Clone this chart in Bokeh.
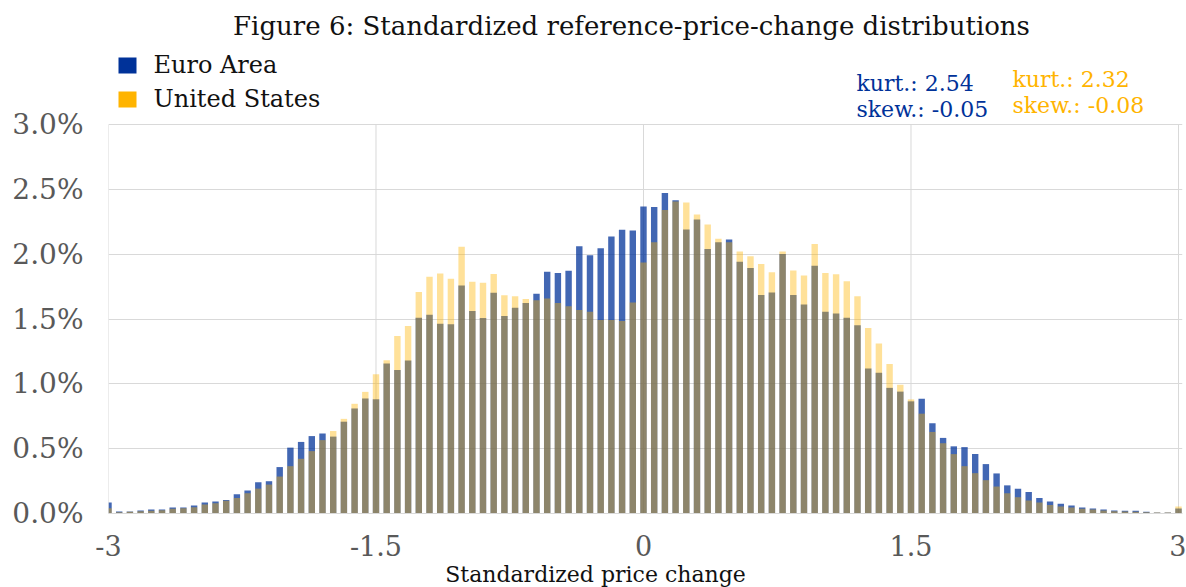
from bokeh.plotting import figure
from bokeh.layouts import column
from bokeh.models import Range1d, FixedTicker, PrintfTickFormatter, ColumnDataSource
from bokeh.core.properties import value
from bokeh.embed import file_html
from bokeh.resources import INLINE

# Bin centres of the standardized price change (step 0.06 from -3 to 3)
bin_centers = [round(-3 + 0.06 * k, 2) for k in range(101)]

# Share of price changes in each bin, in percent
euro_area = [
    0.085, 0.016, 0.015, 0.023, 0.031, 0.031, 0.047, 0.047, 0.062, 0.085,
    0.093, 0.104, 0.148, 0.178, 0.241, 0.249, 0.358, 0.508, 0.552, 0.597,
    0.617, 0.593, 0.708, 0.810, 0.887, 0.881, 1.157, 1.106, 1.180, 1.510,
    1.532, 1.464, 1.460, 1.759, 1.561, 1.508, 1.702, 1.524, 1.586, 1.624,
    1.694, 1.865, 1.854, 1.872, 2.061, 1.991, 2.045, 2.136, 2.188, 2.182,
    2.368, 2.363, 2.472, 2.415, 2.190, 2.268, 2.040, 2.092, 2.113, 1.942,
    1.893, 1.686, 1.705, 2.002, 1.686, 1.612, 1.911, 1.555, 1.543, 1.510,
    1.451, 1.118, 1.085, 0.969, 0.940, 0.865, 0.885, 0.696, 0.583, 0.518,
    0.512, 0.459, 0.381, 0.309, 0.217, 0.191, 0.165, 0.119, 0.092, 0.075,
    0.062, 0.047, 0.039, 0.031, 0.023, 0.021, 0.021, 0.013, 0.008, 0.008,
    0.039,
]
united_states = [
    0.040, 0.010, 0.013, 0.018, 0.021, 0.026, 0.036, 0.041, 0.049, 0.070,
    0.080, 0.098, 0.120, 0.156, 0.192, 0.223, 0.285, 0.365, 0.422, 0.481,
    0.566, 0.636, 0.730, 0.846, 0.938, 1.073, 1.182, 1.369, 1.446, 1.708,
    1.825, 1.851, 1.810, 2.057, 1.787, 1.779, 1.847, 1.684, 1.676, 1.655,
    1.645, 1.658, 1.624, 1.599, 1.570, 1.555, 1.493, 1.493, 1.485, 1.627,
    1.935, 2.092, 2.340, 2.407, 2.399, 2.306, 2.229, 2.118, 2.092, 2.020,
    1.983, 1.924, 1.860, 2.020, 1.875, 1.836, 2.079, 1.855, 1.846, 1.792,
    1.676, 1.431, 1.312, 1.152, 0.993, 0.880, 0.770, 0.629, 0.542, 0.458,
    0.365, 0.311, 0.257, 0.208, 0.156, 0.126, 0.101, 0.085, 0.065, 0.054,
    0.047, 0.036, 0.031, 0.023, 0.018, 0.016, 0.013, 0.010, 0.008, 0.008,
    0.054,
]

title_text = "Figure 6: Standardized reference-price-change distributions"
series_names = ["Euro Area", "United States"]
x_ticks = [-3, -1.5, 0, 1.5, 3]
x_tick_labels = ["-3", "-1.5", "0", "1.5", "3"]
y_ticks = [0, 0.5, 1.0, 1.5, 2.0, 2.5, 3.0]
stats_ea = ["kurt.: 2.54", "skew.: -0.05"]
stats_us = ["kurt.: 2.32", "skew.: -0.08"]
x_axis_title = "Standardized price change"

EA_COLOR = "#003299"
US_COLOR = "#FFB400"
GRID = "#d9d9d9"
TICK_TEXT = "#595959"
TEXT = "#111111"
SERIF = "DejaVu Serif"
W = 1186

# layout in page pixels
LEFT, RIGHT = 108, 4          # frame borders
Y0_PX, Y3_PX = 513, 124       # page y of 0 % and 3 %
BOTTOM = 48                   # room for tick labels
MAIN_H = Y0_PX + BOTTOM
PX_PER_PCT = (Y0_PX - Y3_PX) / 3.0
PX_PER_X = (W - LEFT - RIGHT) / 6.0225

def dx(px):
    return -3 + (px - LEFT) / PX_PER_X

def dy(py):
    return (Y0_PX - py) / PX_PER_PCT

src = ColumnDataSource(dict(x=bin_centers, ea=euro_area, us=united_states))
p = figure(
    width=W, height=MAIN_H,
    x_range=Range1d(-3, 3.0225), y_range=Range1d(0, dy(0)),
    output_backend="svg", toolbar_location=None, title=None,
    min_border_left=LEFT, min_border_right=RIGHT,
    min_border_top=0, min_border_bottom=BOTTOM,
)
p.outline_line_color = None
p.xgrid.visible = False

# grid lines limited to the chart area
p.ygrid.ticker = FixedTicker(ticks=y_ticks)
p.ygrid.grid_line_color = GRID
p.segment(x0=x_ticks, y0=[0] * len(x_ticks), x1=x_ticks, y1=[max(y_ticks)] * len(x_ticks),
          line_color=GRID, line_width=1)

p.vbar(x="x", top="ea", width=0.036, source=src,
       fill_color=EA_COLOR, fill_alpha=0.74, line_color=None)
p.vbar(x="x", top="us", width=0.036, source=src,
       fill_color=US_COLOR, fill_alpha=0.40, line_color=None)

p.xaxis.ticker = FixedTicker(ticks=x_ticks)
p.xaxis.major_label_overrides = {t: l for t, l in zip(x_ticks, x_tick_labels)}
p.yaxis.ticker = FixedTicker(ticks=y_ticks)
p.yaxis.formatter = PrintfTickFormatter(format="%.1f%%")
for ax in (p.xaxis, p.yaxis):
    ax.major_tick_line_color = None
    ax.minor_tick_line_color = None
    ax.major_label_text_font = SERIF
    ax.major_label_text_color = TICK_TEXT
p.xaxis.axis_line_color = GRID
p.yaxis.axis_line_color = None
p.xaxis.major_label_text_font_size = "27px"
p.yaxis.major_label_text_font_size = "28px"
p.xaxis.major_label_standoff = 15
p.yaxis.major_label_standoff = 19

def ptext(fig, x, y, txt, size, color, align="left", baseline="middle"):
    fig.text(x=[x], y=[y], text=[txt], text_font=value(SERIF), text_font_size=size,
             text_color=color, text_align=align, text_baseline=baseline)

# title, legend, statistics (above the 3 % line, inside the plotting frame)
ptext(p, dx(631), dy(25), title_text, "26px", TEXT, align="center")
p.rect(x=[dx(127)], y=[dy(65)], width=18 / PX_PER_X, height=16 / PX_PER_PCT,
       fill_color=EA_COLOR, line_color=None)
p.rect(x=[dx(127)], y=[dy(99)], width=18 / PX_PER_X, height=16 / PX_PER_PCT,
       fill_color=US_COLOR, line_color=None)
ptext(p, dx(153), dy(64), series_names[0], "24px", TEXT)
ptext(p, dx(153), dy(98), series_names[1], "24px", TEXT)
ptext(p, dx(856), dy(83), stats_ea[0], "22px", EA_COLOR)
ptext(p, dx(856), dy(109), stats_ea[1], "22px", EA_COLOR)
ptext(p, dx(1012), dy(79), stats_us[0], "22px", US_COLOR)
ptext(p, dx(1012), dy(105), stats_us[1], "22px", US_COLOR)

# footer with the x-axis title (page coordinates)
FOOT_H = 587 - MAIN_H
foot = figure(width=W, height=FOOT_H, x_range=Range1d(LEFT, W - RIGHT),
              y_range=Range1d(587, MAIN_H),
              x_axis_type=None, y_axis_type=None, output_backend="svg",
              toolbar_location=None, title=None,
              min_border_left=LEFT, min_border_right=RIGHT,
              min_border_top=0, min_border_bottom=0)
foot.outline_line_color = None
ptext(foot, 595, 574, x_axis_title, "22px", TEXT, align="center", baseline="middle")

layout = column(p, foot, spacing=0)
open("out.html", "w").write(file_html(layout, INLINE))
